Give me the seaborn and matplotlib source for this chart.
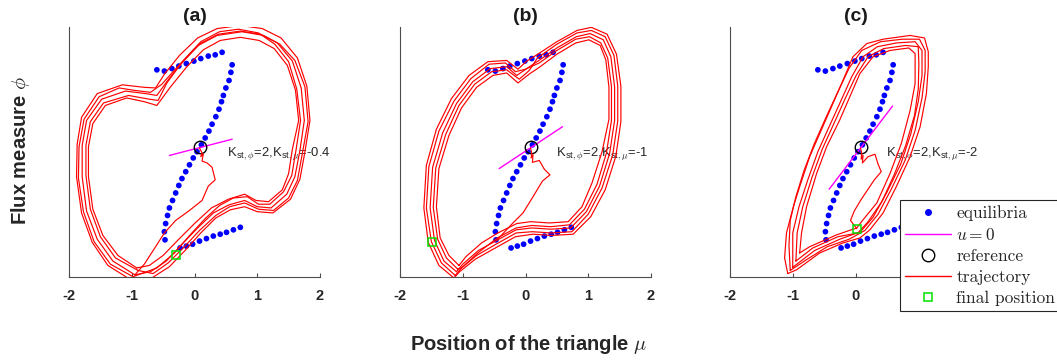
import numpy as np
import pandas as pd
import matplotlib
matplotlib.use("Agg")
import matplotlib.pyplot as plt
import seaborn as sns
from matplotlib.lines import Line2D

# ---------------- data ----------------
panel_titles = ["(a)", "(b)", "(c)"]
k_mu_values = ["-0.4", "-1", "-2"]
x_tick_values = [-2, -1, 0, 1, 2]

# equilibria (same system in all three panels)
eq_upper_x = [-0.60, -0.48, -0.36, -0.25, -0.13, -0.01, 0.10, 0.22, 0.33, 0.44]
eq_upper_y = [1.31, 1.29, 1.33, 1.37, 1.41, 1.45, 1.49, 1.53, 1.55, 1.59]
eq_mid_x = [0.60, 0.58, 0.55, 0.50, 0.46, 0.43, 0.39, 0.34, 0.28, 0.23, 0.17, 0.11, 0.04,
            -0.02, -0.08, -0.14, -0.20, -0.25, -0.30, -0.35, -0.40, -0.43, -0.46, -0.48, -0.47]
eq_mid_y = [1.39, 1.27, 1.14, 1.02, 0.90, 0.80, 0.68, 0.56, 0.44, 0.33, 0.22, 0.11, 0.00,
            -0.10, -0.21, -0.32, -0.43, -0.54, -0.66, -0.78, -0.90, -1.02, -1.15, -1.28, -1.41]
eq_lower_x = [-0.23, -0.13, -0.03, 0.08, 0.19, 0.30, 0.41, 0.51, 0.62, 0.73]
eq_lower_y = [-1.54, -1.51, -1.48, -1.43, -1.39, -1.35, -1.32, -1.29, -1.25, -1.21]

# u = 0 line end points per panel
u0_x = [[-0.40, 0.60], [-0.42, 0.59], [-0.42, 0.59]]
u0_y = [[-0.06, 0.20], [-0.27, 0.40], [-0.60, 0.73]]

# reference point
ref_x = 0.08
ref_y = 0.07

# final positions
final_x = [-0.29, -1.49, 0.02]
final_y = [-1.65, -1.44, -1.23]

# annotation anchor (left end of the text) per panel
ann_x = [0.52, 0.49, 0.49]
ann_y = [-0.08, -0.08, -0.08]

# trajectories (transient + loops) per panel
traj_a = [
    [(0.08, 0.06), (0.12, -0.02), (0.10, -0.08), (0.14, -0.04), (0.12, -0.15), (0.20, -0.18),
     (0.28, -0.25), (0.33, -0.45), (0.22, -0.55), (0.12, -0.78), (-0.08, -0.94), (-0.30, -1.10),
     (-0.48, -1.30), (-0.62, -1.52), (-0.80, -1.80), (-0.95, -1.97)],
    [(-0.95, -1.97), (-1.30, -1.75), (-1.55, -1.40), (-1.72, -0.95), (-1.79, -0.40), (-1.79, 0.10),
     (-1.72, 0.50), (-1.48, 0.84), (-1.10, 0.97), (-0.78, 0.93), (-0.60, 0.90), (-0.42, 1.15),
     (-0.18, 1.45), (0.09, 1.73), (0.38, 1.88), (0.73, 1.93), (1.05, 1.88), (1.32, 1.74),
     (1.56, 1.45), (1.70, 1.02), (1.75, 0.50), (1.68, 0.02), (1.60, -0.40), (1.47, -0.68),
     (1.22, -0.90), (1.00, -0.88), (0.80, -0.78), (0.55, -0.85), (0.30, -0.98), (0.05, -1.22),
     (-0.20, -1.48), (-0.45, -1.75), (-0.70, -1.92), (-0.95, -1.97)],
    [(-1.00, -2.06), (-1.38, -1.82), (-1.63, -1.45), (-1.80, -0.98), (-1.88, -0.40), (-1.87, 0.12),
     (-1.80, 0.55), (-1.55, 0.93), (-1.15, 1.07), (-0.80, 1.03), (-0.62, 1.02), (-0.48, 1.24),
     (-0.24, 1.54), (0.05, 1.82), (0.36, 1.97), (0.73, 2.02), (1.08, 1.97), (1.38, 1.82),
     (1.64, 1.50), (1.79, 1.05), (1.84, 0.50), (1.76, 0.00), (1.68, -0.44), (1.53, -0.76),
     (1.25, -0.98), (1.00, -0.96), (0.80, -0.88), (0.57, -0.93), (0.34, -1.06), (0.10, -1.30),
     (-0.14, -1.57), (-0.40, -1.84), (-0.68, -2.02), (-1.00, -2.06)],
    [(-0.92, -1.86), (-1.22, -1.66), (-1.46, -1.34), (-1.62, -0.92), (-1.69, -0.40), (-1.69, 0.08),
     (-1.62, 0.45), (-1.42, 0.74), (-1.08, 0.86), (-0.80, 0.80), (-0.60, 0.74), (-0.38, 1.04),
     (-0.13, 1.35), (0.14, 1.63), (0.41, 1.78), (0.73, 1.83), (1.03, 1.78), (1.27, 1.65),
     (1.48, 1.38), (1.61, 0.98), (1.66, 0.50), (1.56, 0.04), (1.50, -0.35), (1.40, -0.61),
     (1.18, -0.80), (0.98, -0.78), (0.80, -0.68), (0.54, -0.76), (0.27, -0.90), (0.01, -1.14),
     (-0.25, -1.40), (-0.50, -1.66), (-0.72, -1.82), (-0.92, -1.86)],
    [(-0.98, -2.00), (-1.34, -1.80), (-1.60, -1.44), (-1.77, -0.96), (-1.85, -0.42), (-1.84, 0.08),
     (-1.76, 0.52), (-1.52, 0.88), (-1.20, 1.02), (-0.95, 0.98), (-0.70, 0.95), (-0.52, 1.08),
     (-0.36, 1.26), (-0.16, 1.48), (0.10, 1.76), (0.40, 1.92), (0.70, 1.96), (1.02, 1.90),
     (1.28, 1.72), (1.50, 1.44), (1.63, 1.00), (1.69, 0.50), (1.62, 0.04), (1.55, -0.38),
     (1.42, -0.64), (1.20, -0.84), (1.02, -0.84), (0.84, -0.72), (0.62, -0.74), (0.40, -0.86),
     (0.18, -1.06), (-0.06, -1.32), (-0.32, -1.62), (-0.60, -1.86), (-0.98, -2.00)],
    [(-0.90, -1.90), (-1.26, -1.70), (-1.50, -1.36), (-1.66, -0.92), (-1.73, -0.38), (-1.73, 0.10),
     (-1.66, 0.48), (-1.45, 0.78), (-1.05, 0.90), (-0.72, 0.84), (-0.58, 0.82), (-0.44, 1.10),
     (-0.22, 1.40), (0.06, 1.70), (0.36, 1.86), (0.76, 1.92), (1.10, 1.86), (1.36, 1.72),
     (1.60, 1.46), (1.76, 1.04), (1.81, 0.48), (1.72, -0.02), (1.64, -0.46), (1.50, -0.74),
     (1.26, -0.94), (1.02, -0.92), (0.80, -0.82), (0.56, -0.88), (0.34, -1.02), (0.08, -1.26),
     (-0.16, -1.52), (-0.42, -1.78), (-0.66, -1.95), (-0.90, -1.90)],
]

traj_b = [
    [(0.08, 0.06), (0.10, -0.02), (0.09, -0.10), (0.12, -0.05), (0.11, -0.17), (0.22, -0.14),
     (0.30, -0.28), (0.39, -0.37), (0.27, -0.47), (0.12, -0.72), (-0.04, -0.98), (-0.20, -1.14),
     (-0.46, -1.42)],
    [(-1.10, -1.92), (-1.30, -1.75), (-1.45, -1.42), (-1.52, -0.90), (-1.48, -0.25), (-1.32, 0.30),
     (-1.10, 0.77), (-0.84, 1.12), (-0.56, 1.33), (-0.30, 1.36), (-0.14, 1.22), (0.05, 1.35),
     (0.20, 1.45), (0.50, 1.66), (0.81, 1.84), (1.03, 1.89), (1.24, 1.79), (1.36, 1.52),
     (1.42, 1.04), (1.42, 0.50), (1.34, -0.03), (1.18, -0.55), (0.97, -0.96), (0.72, -1.22),
     (0.40, -1.24), (0.10, -1.22), (-0.15, -1.25), (-0.46, -1.42), (-0.75, -1.58), (-1.00, -1.80),
     (-1.10, -1.92)],
    [(-1.14, -2.02), (-1.38, -1.82), (-1.55, -1.45), (-1.62, -0.90), (-1.58, -0.22), (-1.42, 0.36),
     (-1.18, 0.85), (-0.90, 1.22), (-0.60, 1.44), (-0.30, 1.46), (-0.12, 1.32), (0.02, 1.45),
     (0.18, 1.55), (0.50, 1.76), (0.82, 1.94), (1.05, 1.99), (1.30, 1.88), (1.45, 1.56),
     (1.52, 1.05), (1.52, 0.48), (1.44, -0.07), (1.27, -0.61), (1.04, -1.04), (0.76, -1.32),
     (0.42, -1.34), (0.12, -1.32), (-0.16, -1.36), (-0.48, -1.54), (-0.80, -1.72), (-1.05, -1.92),
     (-1.14, -2.02)],
    [(-1.06, -1.82), (-1.22, -1.66), (-1.36, -1.38), (-1.42, -0.88), (-1.38, -0.27), (-1.22, 0.26),
     (-1.02, 0.70), (-0.78, 1.03), (-0.52, 1.22), (-0.30, 1.26), (-0.12, 1.10), (0.07, 1.25),
     (0.22, 1.35), (0.50, 1.56), (0.80, 1.74), (1.01, 1.79), (1.19, 1.70), (1.28, 1.47),
     (1.33, 1.03), (1.33, 0.52), (1.22, 0.00), (1.06, -0.50), (0.90, -0.88), (0.68, -1.12),
     (0.38, -1.14), (0.08, -1.12), (-0.14, -1.15), (-0.44, -1.30), (-0.70, -1.46), (-0.95, -1.68),
     (-1.06, -1.82)],
    [(-1.12, -1.98), (-1.34, -1.78), (-1.50, -1.44), (-1.58, -0.90), (-1.54, -0.24), (-1.38, 0.33),
     (-1.14, 0.81), (-0.87, 1.17), (-0.58, 1.40), (-0.32, 1.42), (-0.16, 1.28), (0.00, 1.32),
     (0.22, 1.42), (0.50, 1.62), (0.80, 1.80), (1.02, 1.84), (1.20, 1.74), (1.31, 1.50),
     (1.37, 1.04), (1.37, 0.50), (1.29, -0.02), (1.14, -0.52), (0.94, -0.92), (0.70, -1.17),
     (0.40, -1.20), (0.10, -1.18), (-0.15, -1.22), (-0.45, -1.38), (-0.76, -1.62), (-1.02, -1.86),
     (-1.12, -1.98)],
    [(-1.08, -1.88), (-1.26, -1.70), (-1.40, -1.40), (-1.47, -0.89), (-1.43, -0.26), (-1.27, 0.28),
     (-1.06, 0.74), (-0.81, 1.08), (-0.54, 1.28), (-0.30, 1.31), (-0.10, 1.16), (0.06, 1.30),
     (0.19, 1.50), (0.50, 1.72), (0.82, 1.90), (1.05, 1.94), (1.27, 1.84), (1.41, 1.54),
     (1.47, 1.05), (1.47, 0.49), (1.39, -0.05), (1.22, -0.58), (1.00, -1.00), (0.74, -1.28),
     (0.41, -1.30), (0.11, -1.28), (-0.15, -1.30), (-0.47, -1.48), (-0.78, -1.66), (-1.02, -1.86),
     (-1.08, -1.88)],
]

traj_c = [
    [(0.08, 0.06), (0.10, -0.03), (0.09, -0.12), (0.12, -0.06), (0.11, -0.18), (0.20, -0.08),
     (0.31, -0.04), (0.36, -0.20), (0.41, -0.32), (0.30, -0.45), (0.20, -0.60), (0.08, -0.78),
     (-0.02, -0.95), (-0.08, -1.10), (0.02, -1.23)],
    [(-1.00, -1.85), (-1.00, -1.30), (-0.90, -0.88), (-0.76, -0.45), (-0.60, 0.00), (-0.42, 0.40),
     (-0.23, 0.82), (-0.06, 1.20), (0.12, 1.52), (0.35, 1.68), (0.65, 1.74), (0.95, 1.76),
     (1.06, 1.62), (1.06, 1.22), (1.00, 0.80), (0.88, 0.28), (0.72, -0.20), (0.50, -0.65),
     (0.28, -1.05), (0.08, -1.28), (-0.25, -1.40), (-0.65, -1.58), (-1.00, -1.85)],
    [(-1.08, -1.95), (-1.13, -1.70), (-1.10, -1.30), (-0.99, -0.88), (-0.89, -0.56), (-0.73, -0.08),
     (-0.57, 0.29), (-0.36, 0.77), (-0.20, 1.14), (-0.04, 1.52), (0.18, 1.73), (0.44, 1.80),
     (0.87, 1.86), (1.10, 1.82), (1.16, 1.60), (1.16, 1.36), (1.13, 0.93), (1.03, 0.40),
     (0.87, -0.08), (0.65, -0.56), (0.44, -0.98), (0.23, -1.25), (0.07, -1.38), (-0.20, -1.46),
     (-0.57, -1.62), (-0.94, -1.89), (-1.08, -1.95)],
    [(-0.89, -1.62), (-0.86, -1.30), (-0.78, -0.88), (-0.62, -0.35), (-0.46, 0.08), (-0.25, 0.51),
     (-0.09, 0.88), (0.07, 1.25), (0.28, 1.52), (0.55, 1.62), (0.85, 1.66), (0.95, 1.57),
     (0.95, 1.09), (0.87, 0.66), (0.73, 0.13), (0.55, -0.35), (0.34, -0.82), (0.12, -1.09),
     (0.02, -1.22), (-0.30, -1.33), (-0.73, -1.52), (-0.89, -1.62)],
    [(-1.04, -1.90), (-1.06, -1.50), (-1.04, -1.10), (-0.95, -0.72), (-0.82, -0.30), (-0.66, 0.12),
     (-0.47, 0.55), (-0.28, 0.96), (-0.10, 1.34), (0.10, 1.62), (0.40, 1.76), (0.75, 1.80),
     (1.02, 1.80), (1.11, 1.62), (1.11, 1.28), (1.06, 0.86), (0.95, 0.34), (0.79, -0.14),
     (0.57, -0.60), (0.36, -1.00), (0.15, -1.26), (-0.10, -1.40), (-0.45, -1.52), (-0.80, -1.74),
     (-1.04, -1.90)],
    [(-0.95, -1.75), (-0.93, -1.30), (-0.84, -0.88), (-0.69, -0.40), (-0.53, 0.04), (-0.34, 0.46),
     (-0.16, 0.86), (0.01, 1.22), (0.20, 1.52), (0.45, 1.65), (0.80, 1.70), (1.00, 1.68),
     (1.01, 1.40), (1.00, 1.00), (0.94, 0.58), (0.80, 0.10), (0.62, -0.36), (0.42, -0.80),
     (0.20, -1.12), (0.04, -1.30), (-0.28, -1.36), (-0.68, -1.54), (-0.95, -1.75)],
]
trajectories = [traj_a, traj_b, traj_c]

# ---------------- style ----------------
sns.set_theme(style="white")
plt.rcParams["font.family"] = ["Liberation Sans", "DejaVu Sans"]
plt.rcParams["mathtext.fontset"] = "cm"
plt.rcParams["axes.unicode_minus"] = False

BOLD_FAMILY = ["Liberation Sans", "DejaVu Sans"]
SPINE = "#4d4d4d"
BLUE = "#0000FF"
MAGENTA = "#FF00FF"
RED = "#FF0000"
GREEN = "#00E000"

fig = plt.figure(figsize=(10.57, 3.61), dpi=100)
lefts = [69 / 1057, 400 / 1057, 730 / 1057]
bottom = (361 - 276.7) / 361
width = 251 / 1057
height = 250 / 361
axes = [fig.add_axes([l, bottom, width, height]) for l in lefts]

eq_df = pd.DataFrame({
    "mu": eq_upper_x + eq_mid_x + eq_lower_x,
    "phi": eq_upper_y + eq_mid_y + eq_lower_y,
})

for i, ax in enumerate(axes):
    # equilibria
    sns.scatterplot(data=eq_df, x="mu", y="phi", ax=ax, color=BLUE, s=17,
                    edgecolor="none", linewidth=0, zorder=2, legend=False)
    # u = 0
    sns.lineplot(x=u0_x[i], y=u0_y[i], ax=ax, color=MAGENTA, lw=1.0,
                 sort=False, estimator=None, zorder=3, legend=False)
    # reference
    ax.plot([ref_x], [ref_y], marker="o", ms=9, mfc="none", mec="black",
            mew=1.0, ls="none", zorder=4)
    # trajectory
    rows = []
    for j, seg in enumerate(trajectories[i]):
        for (x, y) in seg:
            rows.append((j, x, y))
    tdf = pd.DataFrame(rows, columns=["seg", "x", "y"])
    sns.lineplot(data=tdf, x="x", y="y", units="seg", estimator=None, sort=False,
                 ax=ax, color=RED, lw=0.85, zorder=5, legend=False)
    # final position
    ax.plot([final_x[i]], [final_y[i]], marker="s", ms=6, mfc="none", mec=GREEN,
            mew=1.1, ls="none", zorder=6)

    ax.text(ann_x[i], ann_y[i],
            r"K$_{\mathregular{st},\phi}$=2,K$_{\mathregular{st},\mu}$=" + k_mu_values[i],
            fontsize=9.4, va="baseline", ha="left", color="#262626", zorder=4)

    ax.set_xlim(-2, 2)
    ax.set_ylim(-2, 2)
    ax.set_xticks(x_tick_values)
    if i == 2:
        # the labels 1 and 2 of the last panel lie under the legend
        tick_text = [str(t) if t <= 0 else "" for t in x_tick_values]
    else:
        tick_text = [str(t) for t in x_tick_values]
    ax.set_xticklabels(tick_text, fontsize=10.5,
                       fontweight="bold", family=BOLD_FAMILY, color="#262626")
    ax.set_yticks([])
    ax.set_xlabel("")
    ax.set_ylabel("")
    ax.tick_params(axis="x", direction="in", length=3, width=0.8, color=SPINE, pad=9,
                   bottom=True)
    for s in ["top", "right"]:
        ax.spines[s].set_visible(False)
    for s in ["left", "bottom"]:
        ax.spines[s].set_color(SPINE)
        ax.spines[s].set_linewidth(0.8)
    ax.set_facecolor("white")
    ax.set_title(panel_titles[i], fontsize=14, fontweight="bold", family=BOLD_FAMILY,
                 pad=4, color="#1a1a1a")

fig.text(0.5, 1 - 345 / 361, r"Position of the triangle $\mu$", ha="center", va="center",
         fontsize=14.5, fontweight="bold", family=BOLD_FAMILY, color="#262626")
fig.text(21 / 1057, 1 - 151 / 361, r"Flux measure $\phi$", ha="center", va="center",
         rotation=90, fontsize=14.5, fontweight="bold", family=BOLD_FAMILY, color="#262626")

handles = [
    Line2D([], [], ls="none", marker="o", ms=4, mfc=BLUE, mec=BLUE),
    Line2D([], [], color=MAGENTA, lw=1.0),
    Line2D([], [], ls="none", marker="o", ms=9, mfc="none", mec="black", mew=1.0),
    Line2D([], [], color=RED, lw=1.0),
    Line2D([], [], ls="none", marker="s", ms=6, mfc="none", mec=GREEN, mew=1.1),
]
labels = ["equilibria", r"$u=0$", "reference", "trajectory", "final position"]
leg = fig.legend(handles, labels, loc="upper left",
                 bbox_to_anchor=(900 / 1057, 1 - 200 / 361), borderaxespad=0,
                 frameon=True, fancybox=False, framealpha=1, edgecolor="#262626",
                 prop={"family": "cmr10", "size": 12.5}, handlelength=2.65,
                 handletextpad=0.3, labelspacing=0.33, borderpad=0.3)
leg.get_frame().set_linewidth(0.8)

fig.savefig("out.png", dpi=100, facecolor="white")
